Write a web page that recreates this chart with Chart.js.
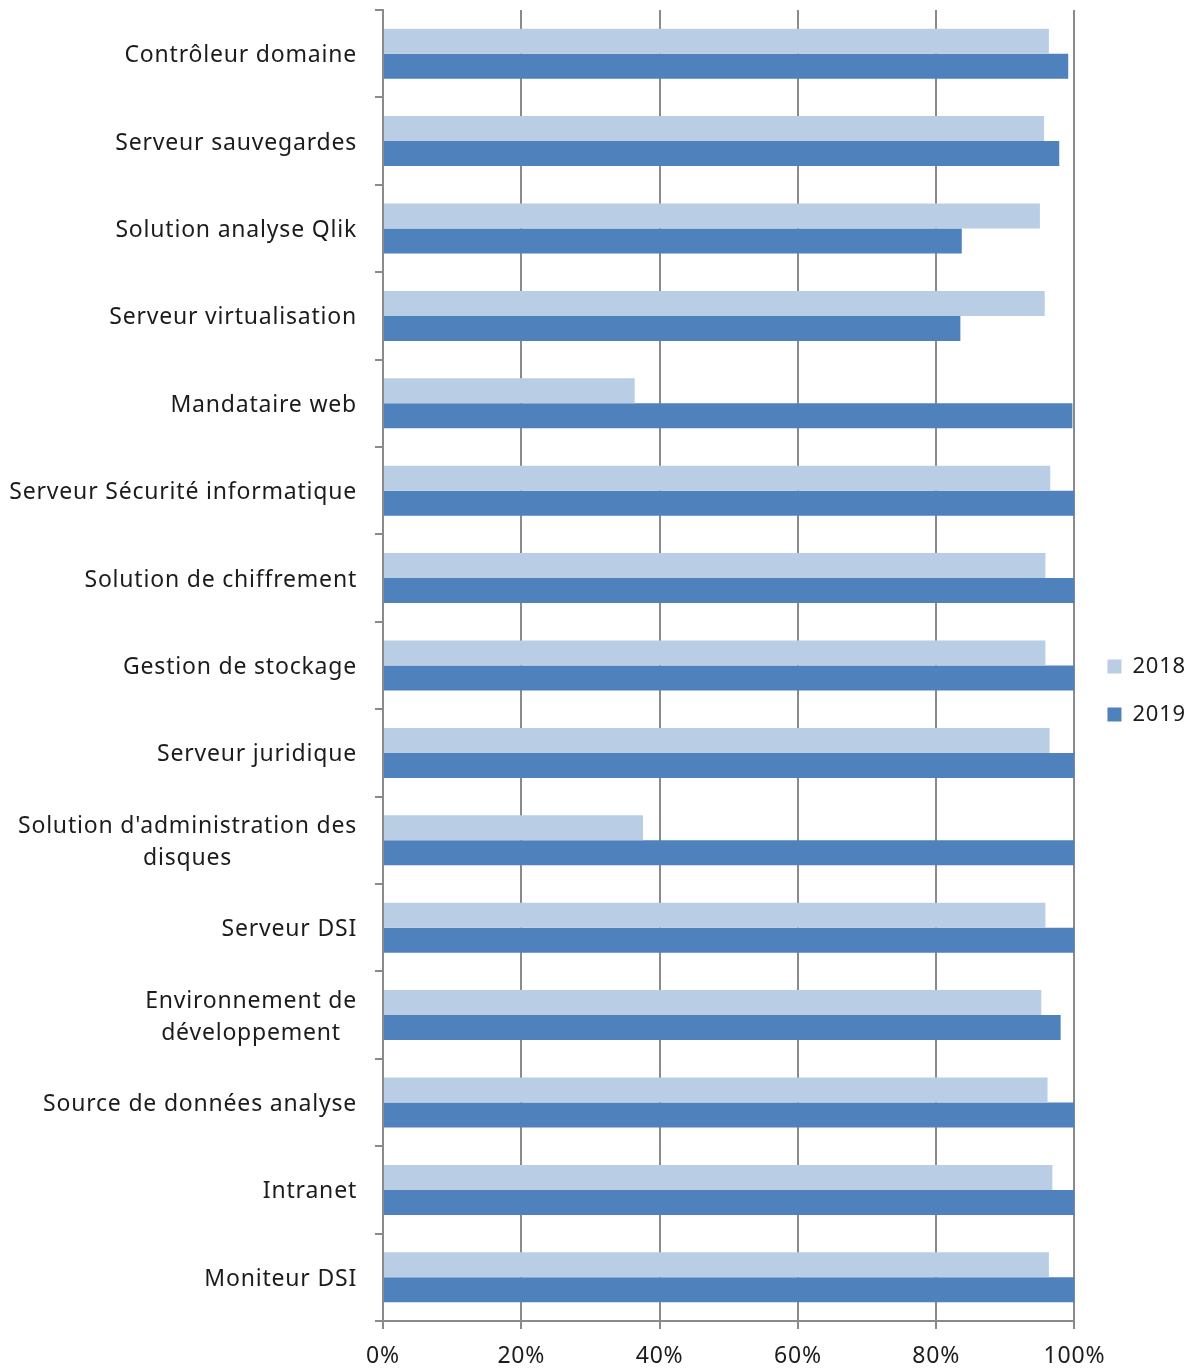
<!DOCTYPE html>
<html lang="fr">
<head>
<meta charset="utf-8">
<script src="https://cdn.jsdelivr.net/npm/chart.js@4/dist/chart.umd.min.js"></script>
<style>
  html, body { margin: 0; padding: 0; background: #fff; }
  #wrap { width: 1196px; height: 1371px; position: relative; }
</style>
</head>
<body>
<div id="wrap"><canvas id="dispo"></canvas></div>
<script>
const serveurs = [
  "Contrôleur domaine",
  "Serveur sauvegardes",
  "Solution analyse Qlik",
  "Serveur virtualisation",
  "Mandataire web",
  "Serveur Sécurité informatique",
  "Solution de chiffrement",
  "Gestion de stockage",
  "Serveur juridique",
  ["Solution d'administration des", "disques"],
  "Serveur DSI",
  ["Environnement de", "développement"],
  "Source de données analyse",
  "Intranet",
  "Moniteur DSI",
];
const dispo2018 = [96.3, 95.6, 95.0, 95.7, 36.4, 96.5, 95.8, 95.8, 96.4, 37.6, 95.8, 95.2, 96.1, 96.8, 96.3];
const dispo2019 = [99.1, 97.8, 83.7, 83.5, 99.7, 100, 100, 100, 100, 100, 100, 98.0, 100, 100, 100];
const pourcentTicks = [0, 20, 40, 60, 80, 100];

const police = "'Noto Sans', sans-serif";
const gris = "#8a8a8a";
const encre = "#1c1c1c";
const espacement = "0.8px";

// texte un peu plus espacé partout (mesure et dessin)
const interlettre = {
  id: "interlettre",
  beforeLayout(chart) { chart.ctx.letterSpacing = espacement; },
  beforeDraw(chart) { chart.ctx.letterSpacing = espacement; },
};

// libellés de catégories : bloc aligné à droite, lignes centrées entre elles
const libelles = {
  id: "libelles",
  afterDraw(chart) {
    const y = chart.scales.y;
    const ctx = chart.ctx;
    ctx.save();
    ctx.letterSpacing = espacement;
    ctx.font = "400 23px " + police;
    ctx.fillStyle = encre;
    ctx.textAlign = "center";
    ctx.textBaseline = "middle";
    const droite = y.right - 26;
    const hLigne = 32;
    serveurs.forEach((lab, i) => {
      const lignes = Array.isArray(lab) ? lab : [lab];
      const larg = Math.max(...lignes.map(l => ctx.measureText(l).width));
      const cx = droite - larg / 2;
      const cy = y.getPixelForValue(i) + 2;
      const y0 = cy - (lignes.length - 1) * hLigne / 2;
      lignes.forEach((l, k) => ctx.fillText(l, cx, y0 + k * hLigne));
    });
    ctx.restore();
  }
};

new Chart(document.getElementById("dispo"), {
  type: "bar",
  data: {
    labels: serveurs,
    datasets: [
      {
        label: "2018",
        data: dispo2018,
        backgroundColor: "#b9cde5",
        borderWidth: 0,
        categoryPercentage: 0.572,
        barPercentage: 1,
      },
      {
        label: "2019",
        data: dispo2019,
        backgroundColor: "#4f81bd",
        borderWidth: 0,
        categoryPercentage: 0.572,
        barPercentage: 1,
      },
    ],
  },
  options: {
    indexAxis: "y",
    responsive: true,
    maintainAspectRatio: false,
    animation: false,
    layout: { padding: { top: 10, right: 0, left: 0, bottom: 0 } },
    plugins: {
      tooltip: { enabled: false },
      legend: {
        position: "right",
        labels: {
          boxWidth: 14,
          boxHeight: 14,
          padding: 26,
          color: encre,
          font: { family: police, size: 22, weight: 400 },
        },
      },
    },
    scales: {
      x: {
        min: 0,
        max: 100,
        afterBuildTicks: (s) => { s.ticks = pourcentTicks.map(v => ({ value: v })); },
        afterFit: (s) => { s.height = 50; },
        border: { color: gris, width: 2 },
        grid: { color: gris, lineWidth: 2, drawTicks: true, tickLength: 8 },
        ticks: {
          padding: 14,
          color: encre,
          font: { family: police, size: 23, weight: 400 },
          callback: (v) => v + "%",
        },
      },
      y: {
        afterFit: (s) => { s.width = 383; },
        border: { color: gris, width: 2 },
        grid: { color: gris, lineWidth: 2, drawOnChartArea: false, drawTicks: true, tickLength: 8, offset: true },
        ticks: { display: false },
      },
      // marge vide entre la zone de tracé et la légende
      marge: {
        type: "linear",
        position: "right",
        afterFit: (s) => { s.width = 7; },
        border: { display: false },
        grid: { display: false },
        ticks: { display: false },
      },
    },
  },
  plugins: [interlettre, libelles],
});
</script>
</body>
</html>
